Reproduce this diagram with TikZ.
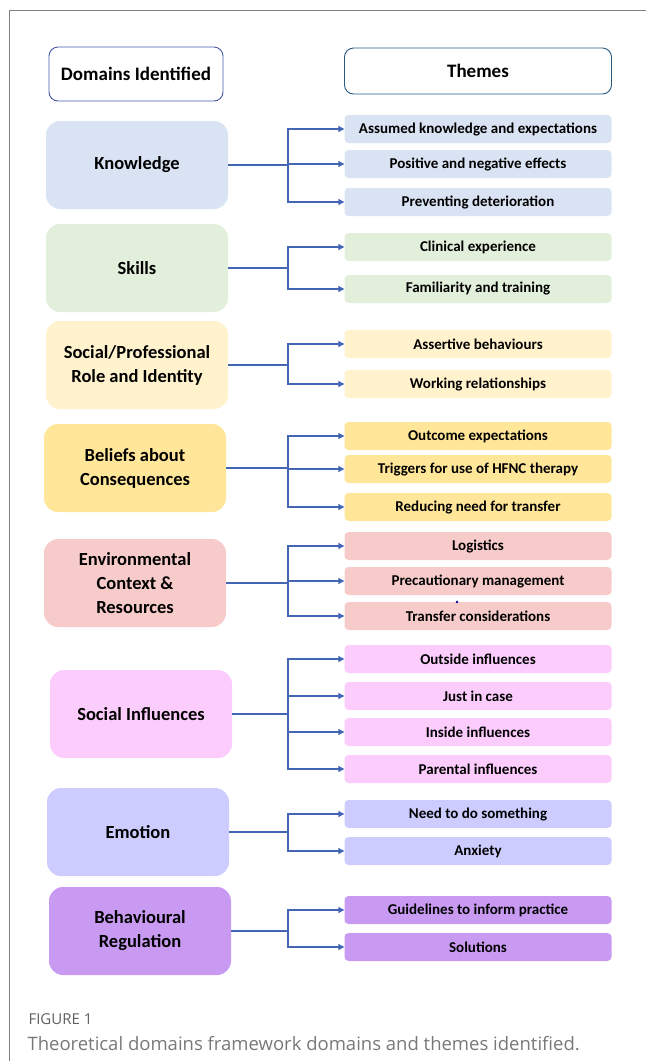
\documentclass[tikz,border=0pt]{standalone}
\usepackage{fontspec}
\setmainfont{Carlito}
\newfontfamily\capfont{Open Sans}
\usetikzlibrary{arrows.meta}

\definecolor{linkblue}{RGB}{68,100,180}
\definecolor{knowc}{RGB}{218,227,243}
\definecolor{skillc}{RGB}{226,239,218}
\definecolor{rolec}{RGB}{255,242,204}
\definecolor{beliefc}{RGB}{255,230,153}
\definecolor{envc}{RGB}{248,203,203}
\definecolor{socc}{RGB}{252,204,252}
\definecolor{emoc}{RGB}{204,204,255}
\definecolor{behc}{RGB}{201,154,242}
\definecolor{capgray}{RGB}{120,120,120}
\definecolor{dheadc}{RGB}{70,90,170}
\definecolor{theadc}{RGB}{40,90,130}

\tikzset{
  headbox/.style={draw=#1, line width=0.9pt, fill=white, rounded corners=9pt,
    font=\bfseries\fontsize{19}{22}\selectfont},
  domain/.style={fill=#1, rounded corners=14pt, minimum width=182pt,
    minimum height=88pt, align=center, font=\bfseries\fontsize{18.5}{24}\selectfont},
  theme/.style={fill=#1, rounded corners=4pt, minimum width=267pt,
    minimum height=28pt, font=\bfseries\fontsize{15}{17}\selectfont},
  link/.style={draw=linkblue, line width=1.1pt, -{Triangle[length=6pt,width=6pt]}}
}

\begin{document}
\begin{tikzpicture}[x=1pt,y=-1pt]
\useasboundingbox (0,0) rectangle (646,1061);
% frame
\draw[gray, line width=0.8pt] (9,1061) -- (9,10) -- (646,10);

% headers
\node[headbox=dheadc, minimum width=174pt, minimum height=54pt] (dhead) at (136,74) {Domains Identified};
\node[headbox=theadc, minimum width=267pt, minimum height=46pt] (thead) at (478,71) {Themes};

\coordinate (bx) at (288,0);

% Knowledge
\node[domain=knowc] (know) at (137,165) {Knowledge};
\node[theme=knowc] (know1) at (478,129) {Assumed knowledge and expectations};
\node[theme=knowc] (know2) at (478,164) {Positive and negative effects};
\node[theme=knowc] (know3) at (478,202) {Preventing deterioration};

% Skills
\node[domain=skillc] (skill) at (137,268) {Skills};
\node[theme=skillc] (skill1) at (478,247) {Clinical experience};
\node[theme=skillc] (skill2) at (478,289) {Familiarity and training};

% Social/Professional role
\node[domain=rolec] (role) at (137,365) {Social/Professional\\Role and Identity};
\node[theme=rolec] (role1) at (478,344) {Assertive behaviours};
\node[theme=rolec] (role2) at (478,384) {Working relationships};

% Beliefs about consequences
\node[domain=beliefc] (belief) at (135,468) {Beliefs about\\Consequences};
\node[theme=beliefc] (belief1) at (478,436) {Outcome expectations};
\node[theme=beliefc] (belief2) at (478,469) {Triggers for use of HFNC therapy};
\node[theme=beliefc] (belief3) at (478,507) {Reducing need for transfer};

% Environmental context
\node[domain=envc] (env) at (135,583) {Environmental\\Context \&\\Resources};
\node[theme=envc] (env1) at (478,546) {Logistics};
\node[theme=envc] (env2) at (478,581) {Precautionary management};
\node[theme=envc] (env3) at (478,616) {Transfer considerations};
\fill[blue!60!black] (457,602) circle (1.4pt);

% Social influences
\node[domain=socc] (soc) at (141,714) {Social Influences};
\node[theme=socc] (soc1) at (478,659) {Outside influences};
\node[theme=socc] (soc2) at (478,696) {Just in case};
\node[theme=socc] (soc3) at (478,732) {Inside influences};
\node[theme=socc] (soc4) at (478,769) {Parental influences};

% Emotion
\node[domain=emoc] (emo) at (138,832) {Emotion};
\node[theme=emoc] (emo1) at (478,814) {Need to do something};
\node[theme=emoc] (emo2) at (478,851) {Anxiety};

% Behavioural regulation
\node[domain=behc] (beh) at (140,931) {Behavioural\\Regulation};
\node[theme=behc] (beh1) at (478,910) {Guidelines to inform practice};
\node[theme=behc] (beh2) at (478,947) {Solutions};

% connectors
\foreach \d/\ts in {know/{know1,know2,know3}, skill/{skill1,skill2},
    role/{role1,role2}, belief/{belief1,belief2,belief3},
    env/{env1,env2,env3}, soc/{soc1,soc2,soc3,soc4},
    emo/{emo1,emo2}, beh/{beh1,beh2}} {
  \foreach \t in \ts {
    \draw[link] (\d.east) -- (\d.east -| bx) |- (\t.west);
  }
}

% caption
\node[anchor=base west, text=capgray!80!black, font=\capfont\fontsize{15}{17}\selectfont] (fig) at (25,1024) {FIGURE 1};
\node[anchor=base west, text=capgray, font=\capfont\fontsize{18.5}{22}\selectfont] (cap) at (24,1050) {Theoretical domains framework domains and themes identified.};
\end{tikzpicture}
\end{document}
